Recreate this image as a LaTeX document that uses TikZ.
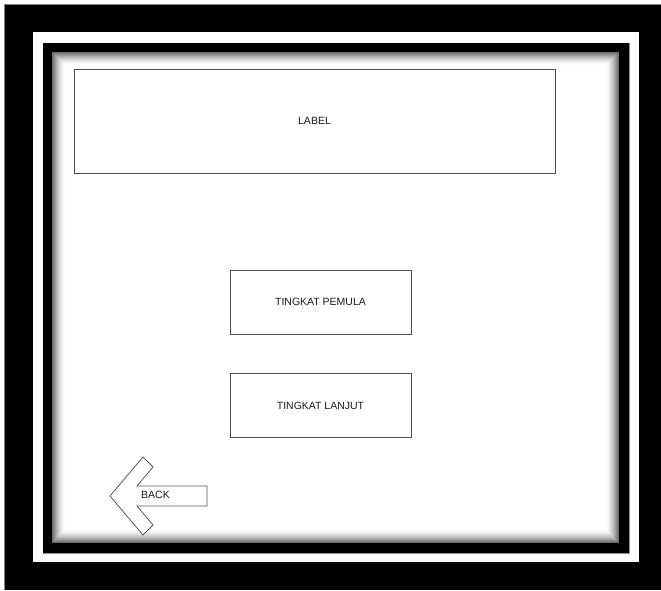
\documentclass[tikz,border=0pt]{standalone}
\usepackage{fontspec}
\setmainfont{Liberation Sans}
\begin{document}
\begin{tikzpicture}[x=1pt,y=-1pt,
  box/.style={draw=black!70, line width=0.9pt, fill=white, text=black!90, font=\fontsize{10.5}{12}\selectfont, inner sep=0pt},
  arrowshape/.style={draw=black!65, line width=0.8pt, fill=white, line join=miter}]
\useasboundingbox (0,0) rectangle (661,590);
\fill[white] (0,0) rectangle (661,590);
% outer black frame
\fill[black] (4,4) rectangle (661,590);
\draw[black!50, line width=0.8pt] (4,590) -- (4,4) -- (661,4);
% white band
\fill[white] (33,32) rectangle (639,562);
% inner black frame
\fill[black] (43,43) rectangle (629,553);
\draw[black!45, line width=0.8pt] (629,43) -- (629,553) -- (43,553);
% interior with inner shadow
\fill[white] (52,52) rectangle (619,543);
\foreach \i in {0,...,12} {
  \pgfmathsetmacro\p{58*(1-\i/13)^1.6}
  \draw[black!\p, line width=1.1pt] (52.5+\i,52.5+\i) rectangle (618.5-\i,542.5-\i);
}
% boxes
\node[box, minimum width=481pt, minimum height=104pt] (label) at (314.5,121) {LABEL};
\node[box, minimum width=181pt, minimum height=64pt] (pemula) at (320.5,302) {TINGKAT PEMULA};
\node[box, minimum width=181pt, minimum height=64pt] (lanjut) at (320.5,405.5) {TINGKAT LANJUT};
% back arrow
\draw[arrowshape] (110,496) -- (143,457) -- (153,467) -- (137,486) -- (207,486) -- (207,506) -- (137,506) -- (153,525) -- (143,535) -- cycle;
\node[text=black!90, font=\fontsize{10.5}{12}\selectfont, inner sep=0pt, anchor=west] (back) at (141,495) {BACK};
\end{tikzpicture}
\end{document}
